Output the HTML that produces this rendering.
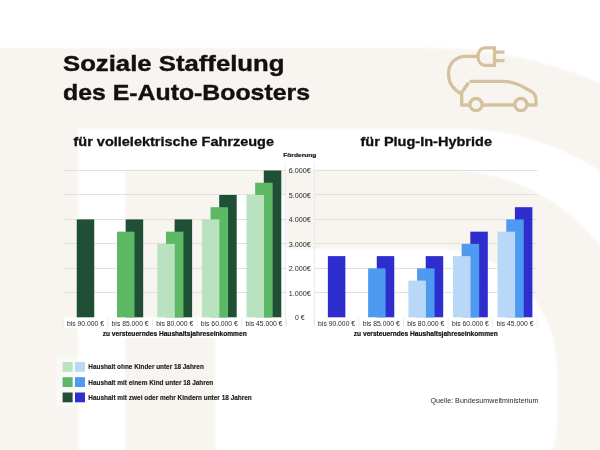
<!DOCTYPE html>
<html><head><meta charset="utf-8"><style>
html,body{margin:0;padding:0;width:600px;height:450px;overflow:hidden;background:#fff}
svg{display:block;will-change:transform}
text{font-family:"Liberation Sans",sans-serif;fill:#111}
.t1{font-size:21.5px;font-weight:700;stroke:#111;stroke-width:0.4px}
.t2{font-size:13px;font-weight:700;stroke:#111;stroke-width:0.3px}
.fd{font-size:6px;font-weight:700;stroke:#151515;stroke-width:0.2px}
.lab{font-size:7px;fill:#2a2a2a}
.axt{font-size:6.6px;font-weight:700;stroke:#151515;stroke-width:0.2px}
.lg{font-size:7.4px;font-weight:700;fill:#1c1c1c;stroke:#1c1c1c;stroke-width:0.15px}
.src{font-size:7.2px;fill:#2a2a2a}
.tick{font-size:6.6px;fill:#2a2a2a}
</style></head><body>
<svg width="600" height="450" viewBox="0 0 600 450">

<defs><filter id="bl" x="-5%" y="-5%" width="110%" height="110%"><feGaussianBlur stdDeviation="1"/></filter></defs>
<rect x="0" y="0" width="600" height="450" fill="#fff"/>
<g filter="url(#bl)">
<path d="M-10,48 L430,48 A430,430 0 0 1 860,478 L860,470 L-10,470 Z" fill="#f8f5f1"/>
<path d="M78.5,128.5 L455,128.5 A271,271 0 0 1 726,399.5 L642,367 A197,197 0 0 0 445,170 L125,170 L125,470 L78.5,470 Z" fill="#fff"/>
<path d="M228,195 L285,195 L285,249 L437,249 A120,120 0 0 1 557,369 L557,400 A150,150 0 0 1 546,470 L215,470 L215,300 L228,300 Z" fill="#fff"/>
</g>


<g fill="none" stroke="#d4c29e" stroke-width="3.3" stroke-linecap="butt" stroke-linejoin="round">
 <path d="M494.5,47.8 L485.5,47.8 C480.5,47.8 478,52 478,56.5 C478,61 480.5,65.3 485.5,65.3 L494.5,65.3"/>
 <path d="M494.5,46.2 L494.5,66.8"/>
 <path d="M496,52.2 L504.5,52.2 M496,60.6 L504.5,60.6"/>
 <path d="M478,56.5 L466,56.3 C455,56.3 448.5,64 448.5,74 C448.5,83 454,90 461.7,94"/>
 <path d="M469.5,81.4 L504,81.4 C512,81.4 519,84.5 526.5,88.8 L531,91.3 C534.5,93.3 536,96 536,99.5 L536,105 L527.3,105 M514.5,105 L482.3,105 M469.7,105 L461.7,105 L461.7,92.5 L468.5,82.7"/>
 <circle cx="476" cy="104.6" r="6.1"/>
 <circle cx="520.9" cy="104.6" r="6.1"/>
</g>

<rect x="63.2" y="317.5" width="223.0" height="10.5" fill="#fff"/>
<rect x="78.5" y="327.5" width="207.7" height="10" fill="#fff"/>
<line x1="63.2" x2="286.2" y1="292.50" y2="292.50" stroke="#e2dfdc" stroke-width="1"/>
<line x1="63.2" x2="286.2" y1="268.50" y2="268.50" stroke="#e2dfdc" stroke-width="1"/>
<line x1="63.2" x2="286.2" y1="243.50" y2="243.50" stroke="#e2dfdc" stroke-width="1"/>
<line x1="63.2" x2="286.2" y1="219.50" y2="219.50" stroke="#e2dfdc" stroke-width="1"/>
<line x1="63.2" x2="286.2" y1="194.50" y2="194.50" stroke="#e2dfdc" stroke-width="1"/>
<line x1="63.2" x2="286.2" y1="170.50" y2="170.50" stroke="#e2dfdc" stroke-width="1"/>
<line x1="63.20" x2="63.20" y1="318.3" y2="327.3" stroke="#e2e2e2" stroke-width="0.7"/>
<line x1="107.80" x2="107.80" y1="318.3" y2="327.3" stroke="#e2e2e2" stroke-width="0.7"/>
<line x1="152.40" x2="152.40" y1="318.3" y2="327.3" stroke="#e2e2e2" stroke-width="0.7"/>
<line x1="197.00" x2="197.00" y1="318.3" y2="327.3" stroke="#e2e2e2" stroke-width="0.7"/>
<line x1="241.60" x2="241.60" y1="318.3" y2="327.3" stroke="#e2e2e2" stroke-width="0.7"/>
<line x1="286.20" x2="286.20" y1="318.3" y2="327.3" stroke="#e2e2e2" stroke-width="0.7"/>
<text x="85.50" y="326" class="lab" text-anchor="middle" textLength="37" lengthAdjust="spacingAndGlyphs">bis 90.000 €</text>
<text x="130.10" y="326" class="lab" text-anchor="middle" textLength="37" lengthAdjust="spacingAndGlyphs">bis 85.000 €</text>
<text x="174.70" y="326" class="lab" text-anchor="middle" textLength="37" lengthAdjust="spacingAndGlyphs">bis 80.000 €</text>
<text x="219.30" y="326" class="lab" text-anchor="middle" textLength="37" lengthAdjust="spacingAndGlyphs">bis 60.000 €</text>
<text x="263.90" y="326" class="lab" text-anchor="middle" textLength="37" lengthAdjust="spacingAndGlyphs">bis 45.000 €</text>
<text x="174.70" y="336" class="axt" text-anchor="middle" textLength="144" lengthAdjust="spacingAndGlyphs">zu versteuerndes Haushaltsjahreseinkommen</text>
<rect x="314.3" y="317.5" width="223.0" height="10.5" fill="#fff"/>
<rect x="314.3" y="327.5" width="222.99999999999994" height="10" fill="#fff"/>
<line x1="314.3" x2="537.3" y1="292.50" y2="292.50" stroke="#e2dfdc" stroke-width="1"/>
<line x1="314.3" x2="537.3" y1="268.50" y2="268.50" stroke="#e2dfdc" stroke-width="1"/>
<line x1="314.3" x2="537.3" y1="243.50" y2="243.50" stroke="#e2dfdc" stroke-width="1"/>
<line x1="314.3" x2="537.3" y1="219.50" y2="219.50" stroke="#e2dfdc" stroke-width="1"/>
<line x1="314.3" x2="537.3" y1="194.50" y2="194.50" stroke="#e2dfdc" stroke-width="1"/>
<line x1="314.3" x2="537.3" y1="170.50" y2="170.50" stroke="#e2dfdc" stroke-width="1"/>
<line x1="314.30" x2="314.30" y1="318.3" y2="327.3" stroke="#e2e2e2" stroke-width="0.7"/>
<line x1="358.90" x2="358.90" y1="318.3" y2="327.3" stroke="#e2e2e2" stroke-width="0.7"/>
<line x1="403.50" x2="403.50" y1="318.3" y2="327.3" stroke="#e2e2e2" stroke-width="0.7"/>
<line x1="448.10" x2="448.10" y1="318.3" y2="327.3" stroke="#e2e2e2" stroke-width="0.7"/>
<line x1="492.70" x2="492.70" y1="318.3" y2="327.3" stroke="#e2e2e2" stroke-width="0.7"/>
<line x1="537.30" x2="537.30" y1="318.3" y2="327.3" stroke="#e2e2e2" stroke-width="0.7"/>
<text x="336.60" y="326" class="lab" text-anchor="middle" textLength="37" lengthAdjust="spacingAndGlyphs">bis 90.000 €</text>
<text x="381.20" y="326" class="lab" text-anchor="middle" textLength="37" lengthAdjust="spacingAndGlyphs">bis 85.000 €</text>
<text x="425.80" y="326" class="lab" text-anchor="middle" textLength="37" lengthAdjust="spacingAndGlyphs">bis 80.000 €</text>
<text x="470.40" y="326" class="lab" text-anchor="middle" textLength="37" lengthAdjust="spacingAndGlyphs">bis 60.000 €</text>
<text x="515.00" y="326" class="lab" text-anchor="middle" textLength="37" lengthAdjust="spacingAndGlyphs">bis 45.000 €</text>
<text x="425.80" y="336" class="axt" text-anchor="middle" textLength="144" lengthAdjust="spacingAndGlyphs">zu versteuerndes Haushaltsjahreseinkommen</text>
<line x1="285.3" x2="285.3" y1="162" y2="326" stroke="#e4e4ea" stroke-width="0.7"/><line x1="314.4" x2="314.4" y1="162" y2="326" stroke="#e4e4ea" stroke-width="0.7"/><text x="299.8" y="320.00" class="tick" text-anchor="middle" textLength="9.5" lengthAdjust="spacingAndGlyphs">0 €</text><text x="299.8" y="295.53" class="tick" text-anchor="middle" textLength="22" lengthAdjust="spacingAndGlyphs">1.000€</text><text x="299.8" y="271.06" class="tick" text-anchor="middle" textLength="22" lengthAdjust="spacingAndGlyphs">2.000€</text><text x="299.8" y="246.59" class="tick" text-anchor="middle" textLength="22" lengthAdjust="spacingAndGlyphs">3.000€</text><text x="299.8" y="222.12" class="tick" text-anchor="middle" textLength="22" lengthAdjust="spacingAndGlyphs">4.000€</text><text x="299.8" y="197.65" class="tick" text-anchor="middle" textLength="22" lengthAdjust="spacingAndGlyphs">5.000€</text><text x="299.8" y="173.18" class="tick" text-anchor="middle" textLength="22" lengthAdjust="spacingAndGlyphs">6.000€</text>
<rect x="76.75" y="219.42" width="17.5" height="97.88" fill="#1f5035"/>
<rect x="125.68" y="219.42" width="17.5" height="97.88" fill="#1f5035"/>
<rect x="117.03" y="231.66" width="17.5" height="85.64" fill="#5cb865"/>
<rect x="174.60" y="219.42" width="17.5" height="97.88" fill="#1f5035"/>
<rect x="165.95" y="231.66" width="17.5" height="85.64" fill="#5cb865"/>
<rect x="157.30" y="243.89" width="17.5" height="73.41" fill="#b9e2bf"/>
<rect x="219.20" y="194.95" width="17.5" height="122.35" fill="#1f5035"/>
<rect x="210.55" y="207.19" width="17.5" height="110.11" fill="#5cb865"/>
<rect x="201.90" y="219.42" width="17.5" height="97.88" fill="#b9e2bf"/>
<rect x="263.80" y="170.48" width="17.5" height="146.82" fill="#1f5035"/>
<rect x="255.15" y="182.72" width="17.5" height="134.58" fill="#5cb865"/>
<rect x="246.50" y="194.95" width="17.5" height="122.35" fill="#b9e2bf"/>
<rect x="327.85" y="256.12" width="17.5" height="61.17" fill="#2e2ecf"/>
<rect x="376.78" y="256.12" width="17.5" height="61.17" fill="#2e2ecf"/>
<rect x="368.13" y="268.36" width="17.5" height="48.94" fill="#4d9af0"/>
<rect x="425.70" y="256.12" width="17.5" height="61.17" fill="#2e2ecf"/>
<rect x="417.05" y="268.36" width="17.5" height="48.94" fill="#4d9af0"/>
<rect x="408.40" y="280.60" width="17.5" height="36.70" fill="#b9d7f7"/>
<rect x="470.30" y="231.66" width="17.5" height="85.64" fill="#2e2ecf"/>
<rect x="461.65" y="243.89" width="17.5" height="73.41" fill="#4d9af0"/>
<rect x="453.00" y="256.12" width="17.5" height="61.17" fill="#b9d7f7"/>
<rect x="514.90" y="207.19" width="17.5" height="110.11" fill="#2e2ecf"/>
<rect x="506.25" y="219.42" width="17.5" height="97.88" fill="#4d9af0"/>
<rect x="497.60" y="231.66" width="17.5" height="85.64" fill="#b9d7f7"/>

<rect x="56" y="357" width="23" height="49" fill="#fff" opacity="0.45" filter="url(#bl)"/>
<rect x="62.6" y="362" width="10" height="9.8" fill="#b9e2bf"/><rect x="75" y="362" width="10" height="9.8" fill="#b9d7f7"/>
<rect x="62.6" y="377.2" width="10" height="9.8" fill="#5cb865"/><rect x="75" y="377.2" width="10" height="9.8" fill="#4d9af0"/>
<rect x="62.6" y="392.5" width="10" height="9.8" fill="#1f5035"/><rect x="75" y="392.5" width="10" height="9.8" fill="#2e2ecf"/>


<text x="63" y="71" class="t1" textLength="221.5" lengthAdjust="spacingAndGlyphs">Soziale Staffelung</text>
<text x="63" y="100" class="t1" textLength="247" lengthAdjust="spacingAndGlyphs">des E-Auto-Boosters</text>
<text x="73.5" y="145.8" class="t2" textLength="200.5" lengthAdjust="spacingAndGlyphs">für vollelektrische Fahrzeuge</text>
<text x="360.5" y="146.2" class="t2" textLength="131.5" lengthAdjust="spacingAndGlyphs">für Plug-In-Hybride</text>
<text x="283.3" y="157" class="fd" textLength="33" lengthAdjust="spacingAndGlyphs">Förderung</text>
<text x="88.3" y="369.3" class="lg" textLength="115.5" lengthAdjust="spacingAndGlyphs">Haushalt ohne Kinder unter 18 Jahren</text>
<text x="88.3" y="384.5" class="lg" textLength="125" lengthAdjust="spacingAndGlyphs">Haushalt mit einem Kind unter 18 Jahren</text>
<text x="88.3" y="400.1" class="lg" textLength="163.5" lengthAdjust="spacingAndGlyphs">Haushalt mit zwei oder mehr Kindern unter 18 Jahren</text>
<text x="430.5" y="403" class="src" textLength="108" lengthAdjust="spacingAndGlyphs">Quelle: Bundesumweltministerium</text>

</svg>
</body></html>
